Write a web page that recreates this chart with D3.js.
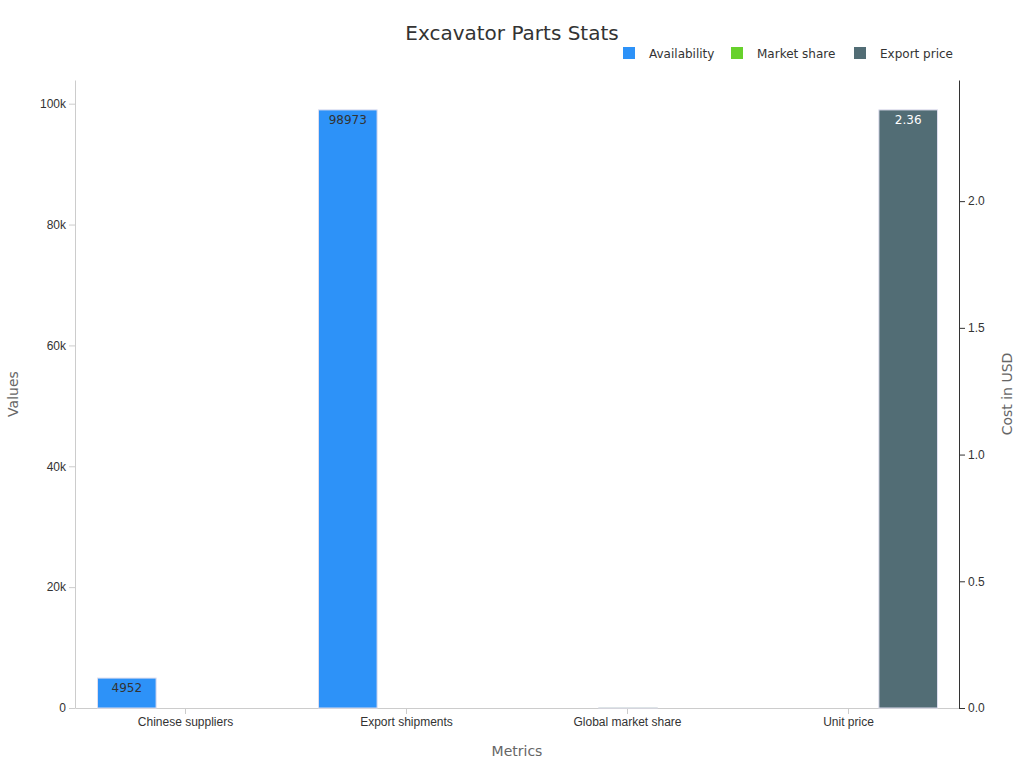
<!DOCTYPE html>
<html><head><meta charset="utf-8">
<script src="https://cdn.jsdelivr.net/npm/d3@7"></script>
<style>body{margin:0;background:#fff;font-family:"DejaVu Sans",sans-serif}</style>
</head><body><svg id="chart"></svg>
<script>
const categories = ["Chinese suppliers", "Export shipments", "Global market share", "Unit price"];
const seriesNames = ["Availability", "Market share", "Export price"];
const availability = [4952, 98973, null, null];
const marketShare = [null, null, 35, null];
const exportPrice = [null, null, null, 2.36];
const colors = ["#2d92f8", "#67d12c", "#526d75"];

const W = 1024, H = 768;
const m = {top: 80, right: 65, bottom: 60, left: 75};
const w = W - m.left - m.right, h = H - m.top - m.bottom;

const svg = d3.select("#chart").attr("width", W).attr("height", H);
const g = svg.append("g").attr("transform", `translate(${m.left},${m.top})`);

const x = d3.scaleBand().domain(categories).range([0, w]);
const xi = d3.scaleBand().domain(seriesNames).range([x.bandwidth() / 2 - 88, x.bandwidth() / 2 + 89]).paddingInner(0.01);
const yL = d3.scaleLinear().domain([0, d3.max(availability) * 1.05]).range([h, 0]);
const yR = d3.scaleLinear().domain([0, d3.max(exportPrice) * 1.05]).range([h, 0]);

const fmtK = d => d === 0 ? "0" : (d / 1000) + "k";
const ax = g.append("g").attr("transform", `translate(0,${h})`).call(d3.axisBottom(x).tickSizeOuter(0));
const al = g.append("g").call(d3.axisLeft(yL).ticks(5).tickFormat(fmtK).tickSizeOuter(0));
const ar = g.append("g").attr("transform", `translate(${w},0)`).call(d3.axisRight(yR).ticks(5).tickSizeOuter(0));
[ax, al, ar].forEach(a => {
  a.selectAll("path,line").attr("stroke", "#ccc");
  a.selectAll("text").attr("fill", "#333").style("font-size", "12px");
});
ar.selectAll("path").attr("stroke", "#333");
ar.selectAll("line").attr("stroke", "#333");

const rows = [
  {name: "Availability", vals: availability, y: yL, label: "#333"},
  {name: "Market share", vals: marketShare, y: yL, label: "#333"},
  {name: "Export price", vals: exportPrice, y: yR, label: "#fff"}
];
rows.forEach((s, si) => {
  const data = categories.map((c, i) => ({c, v: s.vals[i]})).filter(d => d.v != null);
  g.selectAll(null).data(data).join("rect")
    .attr("x", d => x(d.c) + xi(s.name)).attr("width", xi.bandwidth())
    .attr("y", d => s.y(d.v)).attr("height", d => h - s.y(d.v))
    .attr("fill", colors[si]).attr("stroke", "#dde").attr("stroke-width", 1);
  if (si !== 1) g.selectAll(null).data(data).join("text")
    .attr("x", d => x(d.c) + xi(s.name) + xi.bandwidth() / 2).attr("y", d => s.y(d.v) + 14)
    .attr("text-anchor", "middle").attr("fill", s.label).style("font-size", "12px")
    .text(d => d.v);
});

svg.append("text").attr("x", 512).attr("y", 40).attr("text-anchor", "middle")
  .attr("fill", "#333").style("font-size", "20px").text("Excavator Parts Stats");
svg.append("text").attr("x", m.left + w / 2).attr("y", 756).attr("text-anchor", "middle")
  .attr("fill", "#666").style("font-size", "14px").text("Metrics");
svg.append("text").attr("transform", `translate(18,${m.top + h / 2}) rotate(-90)`).attr("text-anchor", "middle")
  .attr("fill", "#666").style("font-size", "14px").text("Values");
svg.append("text").attr("transform", `translate(1012,${m.top + h / 2}) rotate(-90)`).attr("text-anchor", "middle")
  .attr("fill", "#666").style("font-size", "14px").text("Cost in USD");

const legX = [623, 731, 854];
const leg = svg.append("g").selectAll("g").data(seriesNames).join("g")
  .attr("transform", (d, i) => `translate(${legX[i]},47)`);
leg.append("rect").attr("width", 12).attr("height", 12).attr("fill", (d, i) => colors[i]);
leg.append("text").attr("x", 26).attr("y", 11).attr("fill", "#333").style("font-size", "12px").text(d => d);
</script></body></html>
